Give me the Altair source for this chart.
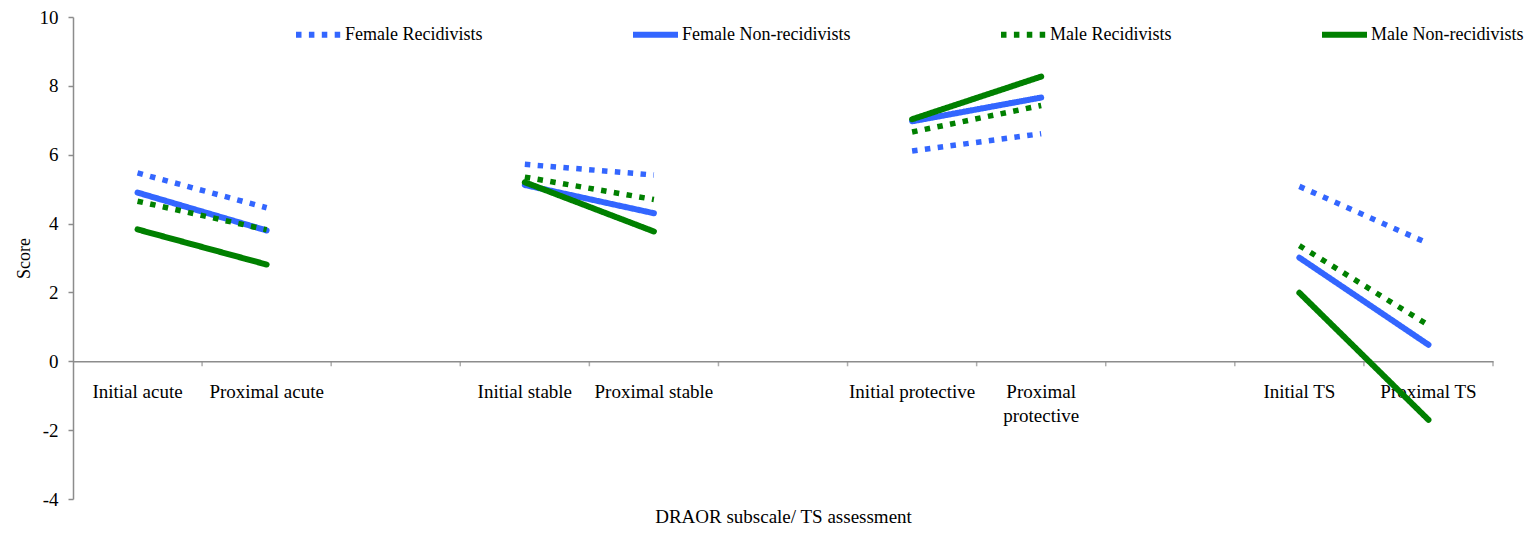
import altair as alt
import pandas as pd

categories = ["Initial acute", "Proximal acute", " ",
              "Initial stable", "Proximal stable", "  ",
              "Initial protective", "Proximal protective", "   ",
              "Initial  TS", "Proximal  TS"]
groups = ["acute", "acute", None, "stable", "stable", None,
          "protective", "protective", None, "TS", "TS"]

series = ["Female Recidivists", "Female Non-recidivists",
          "Male Recidivists", "Male Non-recidivists"]

female_recid = [5.47, 4.46, None, 5.72, 5.41, None, 6.11, 6.61, None, 5.08, 3.42]
female_nonrecid = [4.90, 3.80, None, 5.12, 4.30, None, 6.97, 7.66, None, 3.01, 0.48]
male_recid = [4.65, 3.82, None, 5.35, 4.70, None, 6.66, 7.43, None, 3.36, 1.05]
male_nonrecid = [3.83, 2.81, None, 5.20, 3.77, None, 7.03, 8.27, None, 1.99, -1.70]

values = [female_recid, female_nonrecid, male_recid, male_nonrecid]

rows = []
for s, vals in zip(series, values):
    for c, g, v in zip(categories, groups, vals):
        if v is not None:
            rows.append({"series": s, "category": c, "grp": s + "|" + g, "score": v})
df = pd.DataFrame(rows)
df_dotted = df[df["series"].isin([series[0], series[2]])]
df_solid = df[df["series"].isin([series[1], series[3]])]
df_cats = pd.DataFrame({"category": categories})

FONT = "Liberation Serif"
BLUE = "#3366ff"
GREEN = "#008000"
GRAY = "#8c8c8c"
H = 482
W = 1420

x_scale = alt.Scale(domain=categories, paddingInner=0, paddingOuter=0)
x_axis = alt.Axis(title="DRAOR subscale/ TS assessment", labelAngle=0,
                  offset=-H * 4 / 14, ticks=False,
                  domainColor=GRAY, domainWidth=1.5, labelPadding=21,
                  labelFont=FONT, labelFontSize=19, labelColor="black",
                  labelLimit=400, labelLineHeight=24,
                  labelExpr="datum.value == 'Proximal protective' ? ['Proximal', 'protective'] : datum.value",
                  titleFont=FONT, titleFontSize=19, titleFontWeight="normal",
                  titleColor="black", titleY=146)

x_enc = alt.X("category:N", sort=categories, scale=x_scale, axis=x_axis)
y_enc = alt.Y("score:Q",
              scale=alt.Scale(domain=[-4, 10], nice=False, zero=False),
              axis=alt.Axis(title="Score", values=list(range(-4, 11, 2)), grid=False,
                            domainColor=GRAY, domainWidth=1.5, tickColor=GRAY,
                            tickWidth=1.5, tickSize=5, labelPadding=10,
                            labelFont=FONT, labelFontSize=19, labelColor="black",
                            labelExpr="datum.value < 0 ? '-' + abs(datum.value) : '' + datum.value",
                            titleFont=FONT, titleFontSize=18, titleFontWeight="normal",
                            titleColor="black", titlePadding=6))
legend = alt.Legend(title=None, orient="none", direction="horizontal",
                    legendX=220, legendY=-8, symbolType="stroke",
                    symbolSize=2025, symbolStrokeWidth=6,
                    labelFont=FONT, labelFontSize=18,
                    labelColor="black", labelOffset=1,
                    columnPadding=138, labelLimit=400)
color_enc = alt.Color("series:N", sort=series,
                      scale=alt.Scale(domain=series, range=[BLUE, BLUE, GREEN, GREEN]),
                      legend=legend)
dash_enc = alt.StrokeDash("series:N", sort=series,
                          scale=alt.Scale(domain=series,
                                          range=[[5.5, 7.4], [1, 0], [5.5, 7.4], [1, 0]]),
                          legend=legend)

ticks = alt.Chart(df_cats).mark_tick(orient="vertical", size=5, thickness=1.5,
                                     color=GRAY, yOffset=2.5).encode(
    x=alt.X("category:N", sort=categories, scale=x_scale, bandPosition=1, axis=x_axis),
    y=alt.datum(0))
solid = alt.Chart(df_solid).mark_line(strokeWidth=6, strokeCap="round").encode(
    x=x_enc, y=y_enc, color=color_enc, strokeDash=dash_enc, detail="grp:N")
dotted = alt.Chart(df_dotted).mark_line(strokeWidth=5.5, strokeCap="butt").encode(
    x=x_enc, y=y_enc, color=color_enc, strokeDash=dash_enc, detail="grp:N")

chart = alt.layer(ticks, solid, dotted).properties(
    width=W, height=H,
    autosize=alt.AutoSizeParams(type="none"),
    padding={"left": 65, "top": 9, "right": 36, "bottom": 27},
).configure_view(stroke=None)

chart.save("out.html", embed_options={"renderer": "svg", "actions": False})
